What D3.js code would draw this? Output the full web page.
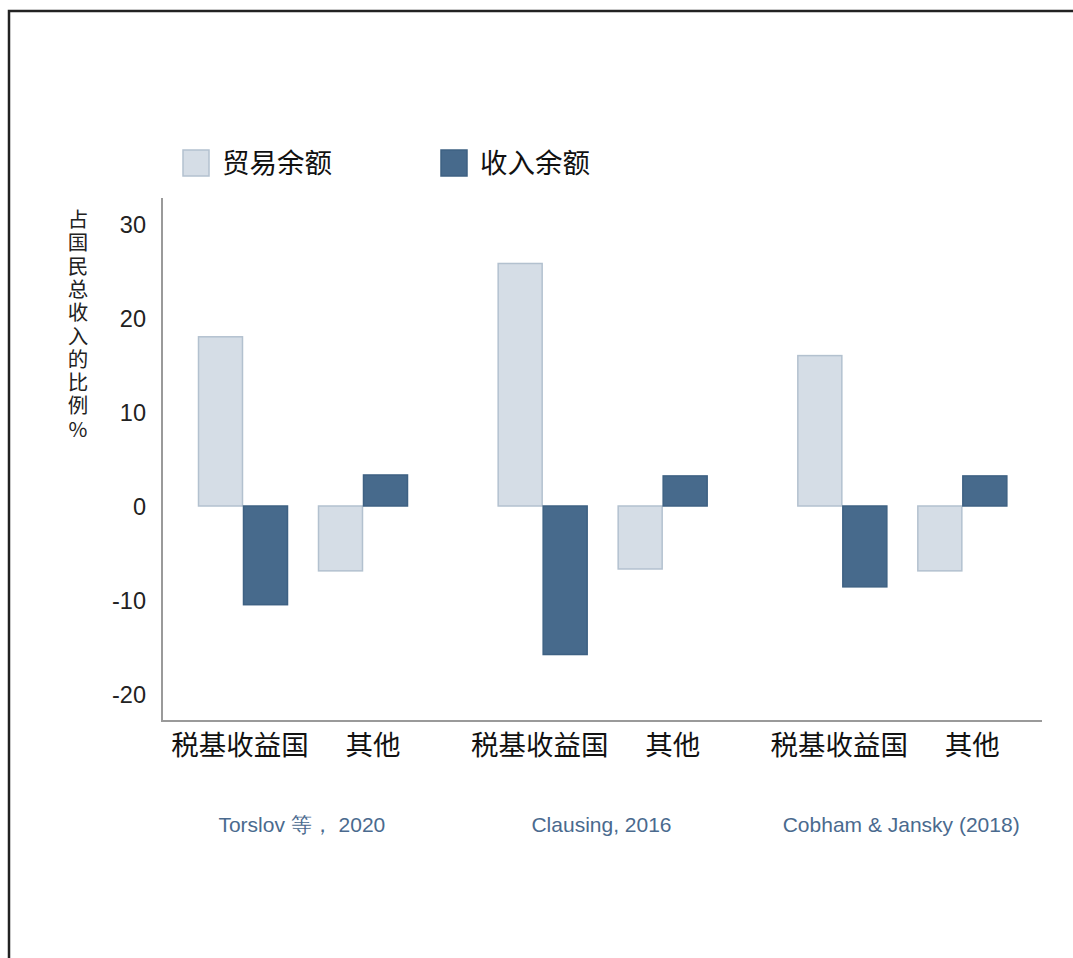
<!DOCTYPE html>
<html><head><meta charset="utf-8">
<script src="https://cdn.jsdelivr.net/npm/d3@7"></script>
<style>body{margin:0;background:#fff}svg{display:block}</style>
</head><body>
<svg id="c" width="1073" height="958"></svg>
<script>
const groups = ["Torslov 等， 2020", "Clausing, 2016", "Cobham & Jansky (2018)"];
const categories = ["税基收益国", "其他"];
const seriesNames = ["贸易余额", "收入余额"];
// values per group: [税基收益国, 其他]
const tradeBalance = [[18.0, -6.9], [25.8, -6.7], [16.0, -6.9]];
const incomeBalance = [[-10.5, 3.3], [-15.8, 3.2], [-8.6, 3.2]];
const yTicks = [30, 20, 10, 0, -10, -20];
const yTitle = "占国民总收入的比例%";

(function(){
const svg = d3.select("#c");
const CJK = "'Noto Sans CJK SC','Noto Sans',sans-serif";
const SANS = "'Liberation Sans',Arial,sans-serif";
const colors = {light:"#d5dde6", lightStroke:"#b3c1cf", dark:"#476a8c", darkStroke:"#3e6183"};
const labelShift = {"税基收益国": -3, "其他": 10};

// frame
svg.append("path").attr("d","M9,958 V11 H1073").attr("fill","none").attr("stroke","#222").attr("stroke-width",2.5);

const axLeft = 162, axRight = 1042, axTop = 198, axBottom = 721;
const y = d3.scaleLinear().domain([-20, 30]).range([694, 224]);

const gx = d3.scaleBand().domain(groups).range([152, 1051]).paddingInner(0).paddingOuter(0);
const cx = d3.scaleBand().domain(categories).range([46, 256]).paddingInner(0.25).paddingOuter(0);
const sx = d3.scaleBand().domain(seriesNames).range([0, cx.bandwidth()]).padding(0);

// bars
const rows = [];
groups.forEach((g,gi)=>categories.forEach((c,ci)=>{
  rows.push({g,c,s:seriesNames[0],v:tradeBalance[gi][ci]});
  rows.push({g,c,s:seriesNames[1],v:incomeBalance[gi][ci]});
}));
svg.append("g").selectAll("rect").data(rows).join("rect")
  .attr("x", d=>gx(d.g)+cx(d.c)+sx(d.s)+0.5)
  .attr("width", sx.bandwidth()-1)
  .attr("y", d=>y(Math.max(0,d.v)))
  .attr("height", d=>Math.abs(y(d.v)-y(0)))
  .attr("fill", d=>d.s===seriesNames[0]?colors.light:colors.dark)
  .attr("stroke", d=>d.s===seriesNames[0]?colors.lightStroke:colors.darkStroke)
  .attr("stroke-width",1.5);

// axes lines
svg.append("path").attr("d",`M${axLeft},${axTop} V${axBottom} H${axRight}`).attr("fill","none").attr("stroke","#9a9a9a").attr("stroke-width",2);

// y axis labels
const ya = svg.append("g").attr("transform",`translate(${axLeft},0)`)
  .call(d3.axisLeft(y).tickValues(yTicks).tickSize(0).tickPadding(16).tickFormat(d=>String(d)));
ya.select(".domain").remove();
ya.selectAll("text").attr("font-family",SANS).attr("font-size",23.5).attr("fill","#222").attr("dy","0.35em");

// y title vertical
svg.append("text").attr("x",78).attr("y",209)
  .attr("font-family",CJK).attr("font-size",20.5).attr("fill","#222")
  .style("writing-mode","vertical-rl").style("text-orientation","upright")
  .attr("letter-spacing",2.8).text(yTitle);

// category labels
groups.forEach(g=>categories.forEach(c=>{
  svg.append("text").attr("x",gx(g)+cx(c)+cx.bandwidth()/2+labelShift[c]).attr("y",755)
    .attr("text-anchor","middle").attr("font-family",CJK).attr("font-size",27.5).attr("fill","#111").text(c);
}));
// group labels
groups.forEach(g=>{
  svg.append("text").attr("x",gx(g)+gx.bandwidth()/2).attr("y",832)
    .attr("text-anchor","middle").attr("font-family",SANS).attr("font-size",21).attr("fill","#4a6a8e").text(g);
});

// legend
const leg = [{n:seriesNames[0],x:183,f:colors.light,s:colors.lightStroke},{n:seriesNames[1],x:441,f:colors.dark,s:colors.darkStroke}];
leg.forEach(l=>{
  svg.append("rect").attr("x",l.x).attr("y",150).attr("width",26).attr("height",26).attr("fill",l.f).attr("stroke",l.s).attr("stroke-width",1.5);
  svg.append("text").attr("x",l.x+39).attr("y",173).attr("font-family",CJK).attr("font-size",27.5).attr("fill","#111").text(l.n);
});
})();
</script>
</body></html>
